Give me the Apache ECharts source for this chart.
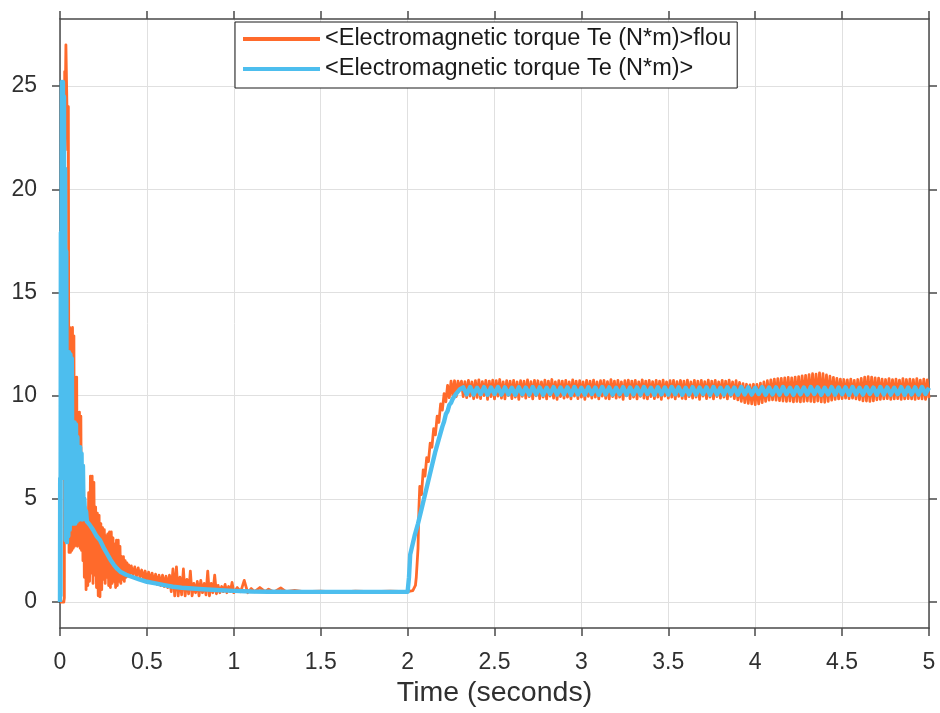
<!DOCTYPE html>
<html>
<head>
<meta charset="utf-8">
<script src="https://cdn.jsdelivr.net/npm/echarts@6/dist/echarts.min.js"></script>
<style>
  html, body { margin: 0; padding: 0; background: #fff; }
  #chart { width: 940px; height: 713px; }
</style>
</head>
<body>
<div id="chart"></div>
<script>
// Electromagnetic torque Te (N*m) versus time: fuzzy controller vs. classic controller

const NAME_FUZZY = '<Electromagnetic torque Te (N*m)>flou';
const NAME_CLASSIC = '<Electromagnetic torque Te (N*m)>';

const xTicks = [0, 0.5, 1, 1.5, 2, 2.5, 3, 3.5, 4, 4.5, 5];
const yTicks = [0, 5, 10, 15, 20, 25];

// Fuzzy controller: start-up transient, plateau and load step, as [time, torque]
const fuzzyTransient = [
  [0, 0], [0.022, 0], [0.025, 0.2], [0.027, 25.7], [0.031, 24.8], [0.034, 27.0], [0.041, 27.0],
  [0.044, 21.9], [0.048, 24.0], [0.052, 2.4], [0.056, 13.3], [0.06, 2.4], [0.064, 13.2],
  [0.068, 2.5], [0.072, 13.3], [0.076, 2.6], [0.08, 12.9], [0.084, 2.7], [0.088, 10.9],
  [0.092, 2.8], [0.096, 10.9], [0.1, 2.7], [0.104, 9.2], [0.108, 2.8], [0.112, 9.2],
  [0.116, 2.6], [0.12, 9.0], [0.124, 2.5], [0.128, 6.6], [0.132, 2.0], [0.136, 5.5],
  [0.14, 1.2], [0.145, 4.6], [0.15, 0.6], [0.155, 4.0], [0.16, 0.8], [0.165, 5.3],
  [0.17, 1.0], [0.175, 6.1], [0.18, 1.4], [0.185, 6.1], [0.19, 0.9], [0.195, 5.8],
  [0.2, 1.3], [0.205, 4.6], [0.21, 0.7], [0.215, 4.3], [0.22, 0.3], [0.225, 4.2],
  [0.23, 0.25], [0.235, 3.8], [0.24, 0.6], [0.245, 3.6], [0.25, 1.1], [0.255, 3.5],
  [0.26, 0.9], [0.265, 3.2], [0.27, 1.2], [0.275, 3.3], [0.28, 0.8], [0.285, 3.4],
  [0.29, 0.7], [0.295, 3.4], [0.3, 0.9], [0.305, 3.1], [0.31, 1.0], [0.315, 2.8],
  [0.32, 0.7], [0.325, 3.0], [0.33, 0.8], [0.335, 3.0], [0.34, 1.0], [0.345, 2.7],
  [0.35, 0.9], [0.355, 2.2], [0.36, 1.1], [0.365, 2.2], [0.37, 1.0], [0.375, 2.0],
  [0.38, 1.2], [0.385, 1.9], [0.39, 1.25], [0.395, 1.8], [0.4, 1.3], [0.41, 1.75],
  [0.42, 1.3], [0.43, 1.7], [0.44, 1.25], [0.45, 1.65], [0.46, 1.2], [0.47, 1.55],
  [0.48, 1.1], [0.49, 1.5], [0.5, 1.0], [0.51, 1.45], [0.52, 0.95], [0.53, 1.4],
  [0.54, 0.9], [0.55, 1.35], [0.56, 0.85], [0.57, 1.3], [0.58, 0.8], [0.59, 1.3],
  [0.6, 0.75], [0.61, 1.25], [0.62, 0.7], [0.63, 1.3], [0.64, 0.5], [0.65, 1.6],
  [0.66, 0.3], [0.67, 1.7], [0.68, 0.3], [0.69, 1.2], [0.7, 0.35], [0.71, 1.6],
  [0.72, 0.3], [0.73, 1.1], [0.74, 0.4], [0.75, 1.5], [0.76, 0.3], [0.77, 0.9],
  [0.78, 0.45], [0.79, 1.0], [0.8, 0.3], [0.81, 1.05], [0.82, 0.45], [0.83, 0.9],
  [0.84, 0.35], [0.85, 1.5], [0.86, 0.3], [0.87, 0.9], [0.88, 0.45], [0.89, 1.3],
  [0.9, 0.4], [0.91, 0.8], [0.92, 0.45], [0.93, 0.75], [0.94, 0.5], [0.95, 0.85],
  [0.96, 0.45], [0.97, 0.75], [0.98, 0.5], [0.99, 0.95], [1.0, 0.45], [1.02, 0.7],
  [1.04, 0.5], [1.06, 1.05], [1.08, 0.45], [1.1, 0.65], [1.12, 0.5], [1.15, 0.7],
  [1.18, 0.5], [1.2, 0.62], [1.23, 0.48], [1.27, 0.68], [1.3, 0.5], [1.35, 0.56],
  [1.4, 0.5], [1.5, 0.53], [1.6, 0.48], [1.7, 0.52], [1.8, 0.5], [1.9, 0.53],
  [2.0, 0.5], [2.03, 0.55], [2.045, 0.8], [2.05, 1.2], [2.06, 2.6], [2.065, 4.5],
  [2.07, 5.6], [2.08, 5.2], [2.09, 6.4], [2.1, 6.1], [2.11, 7.0], [2.12, 6.8],
  [2.13, 7.7], [2.14, 7.5], [2.15, 8.4], [2.16, 8.1], [2.17, 9.0], [2.18, 8.7],
  [2.19, 9.6], [2.2, 9.3], [2.21, 10.1], [2.22, 9.7], [2.23, 10.5], [2.24, 9.9],
  [2.25, 10.7], [2.26, 10.0], [2.27, 10.72], [2.28, 9.95], [2.29, 10.7]
];

// Fuzzy controller steady state under load, sampled every fuzzyStep from fuzzySteadyStart
const fuzzySteadyStart = 2.30;
const fuzzyStep = 0.01;
const fuzzySteady = [
  10.3, 10.7, 9.95, 10.68, 9.9, 10.74, 9.98, 10.66, 9.85, 10.72,
  9.92, 10.76, 9.86, 10.68, 10.0, 10.74, 9.82, 10.7, 9.95, 10.75,
  9.84, 10.72, 9.98, 10.78, 9.88, 10.66, 9.84, 10.72, 10.0, 10.7,
  9.86, 10.74, 9.93, 10.66, 9.82, 10.72, 9.97, 10.7, 9.88, 10.76,
  9.95, 10.68, 9.84, 10.74, 9.99, 10.72, 9.86, 10.66, 9.93, 10.75,
  9.84, 10.7, 9.98, 10.78, 9.88, 10.66, 9.82, 10.73, 9.95, 10.7,
  9.88, 10.74, 9.93, 10.67, 9.84, 10.76, 9.98, 10.7, 9.86, 10.72,
  9.93, 10.66, 9.82, 10.74, 9.97, 10.7, 9.88, 10.75, 9.93, 10.66,
  9.84, 10.72, 9.98, 10.74, 9.87, 10.68, 9.84, 10.77, 9.95, 10.7,
  9.88, 10.74, 9.93, 10.66, 9.82, 10.72, 9.99, 10.75, 9.86, 10.7,
  9.93, 10.74, 9.84, 10.66, 9.97, 10.76, 9.88, 10.7, 9.84, 10.74,
  9.95, 10.68, 9.86, 10.74, 9.93, 10.7, 9.82, 10.75, 9.98, 10.66,
  9.88, 10.72, 9.93, 10.74, 9.84, 10.68, 9.97, 10.74, 9.87, 10.7,
  9.84, 10.75, 9.95, 10.66, 9.88, 10.74, 9.93, 10.7, 9.82, 10.74,
  9.98, 10.68, 9.86, 10.75, 9.93, 10.7, 9.84, 10.74, 9.95, 10.66,
  9.88, 10.74, 9.93, 10.7, 9.84, 10.75, 9.97, 10.66, 9.86, 10.72,
  9.8, 10.64, 9.72, 10.58, 9.66, 10.55, 9.62, 10.52, 9.6, 10.55,
  9.56, 10.54, 9.6, 10.6, 9.66, 10.66, 9.72, 10.72, 9.78, 10.76,
  9.8, 10.8, 9.78, 10.82, 9.76, 10.84, 9.74, 10.86, 9.72, 10.88,
  9.74, 10.86, 9.7, 10.9, 9.72, 10.92, 9.7, 10.96, 9.72, 10.98,
  9.74, 11.02, 9.72, 11.06, 9.7, 11.04, 9.74, 11.1, 9.7, 11.06,
  9.68, 11.0, 9.72, 10.94, 9.78, 10.88, 9.82, 10.84, 9.84, 10.8,
  9.86, 10.78, 9.88, 10.76, 9.86, 10.8, 9.88, 10.74, 9.84, 10.78,
  9.8, 10.84, 9.75, 10.9, 9.74, 10.92, 9.72, 10.9, 9.75, 10.86,
  9.8, 10.85, 9.82, 10.8, 9.84, 10.78, 9.86, 10.82, 9.82, 10.78,
  9.84, 10.8, 9.86, 10.75, 9.82, 10.82, 9.84, 10.78, 9.86, 10.8,
  9.84, 10.78, 9.82, 10.82, 9.86, 10.75, 9.84, 10.8, 9.82, 10.76, 9.88
];

// Classic controller: start-up transient, plateau and load step, as [time, torque]
const classicTransient = [
  [0, 0], [0.001, 6.0], [0.003, 0.3], [0.005, 17.9], [0.008, 12], [0.011, 25.2],
  [0.014, 19], [0.017, 25.2], [0.02, 15], [0.023, 24.5], [0.026, 6], [0.029, 21],
  [0.032, 3.0], [0.036, 17], [0.04, 2.9], [0.044, 12.1], [0.048, 3.2], [0.052, 12.1],
  [0.056, 3.5], [0.06, 12.0], [0.064, 3.8], [0.068, 11.8], [0.072, 3.8], [0.076, 8.7],
  [0.08, 3.9], [0.084, 8.7], [0.088, 3.8], [0.092, 8.6], [0.096, 3.9], [0.1, 8.0],
  [0.104, 4.0], [0.108, 7.5], [0.112, 4.0], [0.116, 7.5], [0.12, 4.1], [0.124, 7.2],
  [0.128, 4.0], [0.132, 6.6], [0.136, 4.1], [0.14, 5.0], [0.145, 4.0], [0.15, 4.4],
  [0.155, 3.9], [0.17, 3.75], [0.19, 3.5], [0.21, 3.2], [0.23, 3.0], [0.25, 2.65],
  [0.27, 2.35], [0.29, 2.05], [0.31, 1.8], [0.33, 1.6], [0.35, 1.45], [0.38, 1.32],
  [0.42, 1.2], [0.46, 1.08], [0.5, 0.98], [0.55, 0.9], [0.6, 0.82], [0.65, 0.74],
  [0.7, 0.69], [0.8, 0.63], [0.9, 0.58], [1.0, 0.54], [1.1, 0.51], [1.2, 0.5],
  [1.4, 0.49], [1.6, 0.49], [1.8, 0.49], [2.0, 0.49], [2.008, 1.2], [2.015, 2.3],
  [2.04, 3.2], [2.06, 3.8], [2.08, 4.5], [2.1, 5.2], [2.12, 5.9], [2.14, 6.6],
  [2.16, 7.3], [2.18, 7.9], [2.2, 8.5], [2.21, 8.75], [2.22, 9.1], [2.23, 9.25],
  [2.24, 9.55], [2.25, 9.65], [2.26, 9.85], [2.27, 9.9], [2.28, 10.1], [2.29, 10.05],
  [2.30, 10.3]
];

// Classic controller steady state under load, sampled every classicStep from classicSteadyStart
const classicSteadyStart = 2.32;
const classicStep = 0.02;
const classicSteady = [
  10.4, 10.06, 10.42, 10.05, 10.38, 10.07, 10.41, 10.04, 10.39, 10.08,
  10.42, 10.05, 10.4, 10.06, 10.38, 10.04, 10.41, 10.07, 10.39, 10.05,
  10.42, 10.06, 10.4, 10.04, 10.38, 10.08, 10.41, 10.05, 10.39, 10.07,
  10.4, 10.04, 10.42, 10.06, 10.38, 10.05, 10.41, 10.08, 10.39, 10.04,
  10.42, 10.06, 10.4, 10.05, 10.38, 10.07, 10.41, 10.04, 10.39, 10.06,
  10.4, 10.05, 10.42, 10.08, 10.38, 10.04, 10.41, 10.06, 10.39, 10.05,
  10.42, 10.07, 10.4, 10.04, 10.38, 10.06, 10.41, 10.05, 10.39, 10.08,
  10.4, 10.04, 10.42, 10.06, 10.38, 10.05, 10.41, 10.07, 10.39, 10.04,
  10.42, 10.06, 10.4, 10.05, 10.38, 10.08, 10.41, 10.04, 10.39, 10.06,
  10.4, 10.05, 10.42, 10.07, 10.38, 10.04, 10.41, 10.06, 10.39, 10.05,
  10.42, 10.08, 10.4, 10.04, 10.38, 10.06, 10.41, 10.05, 10.39, 10.07,
  10.4, 10.04, 10.42, 10.06, 10.38, 10.05, 10.41, 10.08, 10.39, 10.04,
  10.42, 10.06, 10.4, 10.05, 10.38, 10.07, 10.41, 10.04, 10.39, 10.06,
  10.4, 10.05, 10.42, 10.08, 10.38
];

function withSteady(transient, start, step, values) {
  const tail = values.map((v, i) => [Math.round((start + i * step) * 1000) / 1000, v]);
  return transient.concat(tail);
}

const fuzzyData = withSteady(fuzzyTransient, fuzzySteadyStart, fuzzyStep, fuzzySteady);
const classicData = withSteady(classicTransient, classicSteadyStart, classicStep, classicSteady);

const FONT = 'Liberation Sans, Arial, Helvetica, sans-serif';
const AXIS_COLOR = '#4a4a4a';
const TEXT_COLOR = '#303030';
const GRID_COLOR = '#e0e0e0';

const Y_MIN = -1.26;
const Y_MAX = 28.25;

const axisLine = { show: true, onZero: false, lineStyle: { color: AXIS_COLOR, width: 1.5 } };
const outerTick = (values) => ({
  show: true, inside: false, length: 8, customValues: values,
  lineStyle: { color: AXIS_COLOR, width: 1.5 }
});

const chart = echarts.init(document.getElementById('chart'), null, { renderer: 'canvas' });

chart.setOption({
  animation: false,
  backgroundColor: '#ffffff',
  textStyle: { fontFamily: FONT },
  grid: { left: 60, right: 11, top: 19, bottom: 85, containLabel: false },
  legend: {
    orient: 'vertical',
    left: 235, top: 22,
    padding: [5, 6, 7, 8],
    itemGap: 6,
    itemWidth: 77, itemHeight: 4,
    icon: 'rect',
    backgroundColor: '#ffffff',
    borderColor: '#1a1a1a', borderWidth: 1,
    textStyle: { fontFamily: FONT, fontSize: 23.5, color: '#1a1a1a' },
    data: [NAME_FUZZY, NAME_CLASSIC]
  },
  xAxis: [
    {
      type: 'value', min: 0, max: 5, interval: 0.5, position: 'bottom',
      name: 'Time (seconds)', nameLocation: 'middle', nameGap: 50,
      nameTextStyle: { fontFamily: FONT, fontSize: 28.5, color: TEXT_COLOR },
      axisLine, axisTick: outerTick(xTicks),
      axisLabel: { customValues: xTicks, fontFamily: FONT, fontSize: 23, color: TEXT_COLOR, margin: 23 },
      splitLine: { show: true, lineStyle: { color: GRID_COLOR, width: 1 } }
    },
    {
      type: 'value', min: 0, max: 5, interval: 0.5, position: 'top',
      axisLine, axisTick: outerTick(xTicks),
      axisLabel: { show: false }, splitLine: { show: false }
    }
  ],
  yAxis: [
    {
      type: 'value', min: Y_MIN, max: Y_MAX, position: 'left',
      axisLine, axisTick: outerTick(yTicks),
      axisLabel: { customValues: yTicks, fontFamily: FONT, fontSize: 23, color: TEXT_COLOR, margin: 23 },
      splitLine: { show: true, lineStyle: { color: GRID_COLOR, width: 1 } }
    },
    {
      type: 'value', min: Y_MIN, max: Y_MAX, position: 'right',
      axisLine, axisTick: outerTick(yTicks),
      axisLabel: { show: false }, splitLine: { show: false }
    }
  ],
  series: [
    {
      name: NAME_FUZZY, type: 'line', data: fuzzyData,
      showSymbol: false, symbol: 'none',
      lineStyle: { color: '#FF6A2B', width: 2.8, join: 'round' },
      itemStyle: { color: '#FF6A2B' }
    },
    {
      name: NAME_CLASSIC, type: 'line', data: classicData,
      showSymbol: false, symbol: 'none',
      lineStyle: { color: '#4DBEEE', width: 4.4, join: 'round' },
      itemStyle: { color: '#4DBEEE' }
    }
  ]
});
</script>
</body>
</html>
